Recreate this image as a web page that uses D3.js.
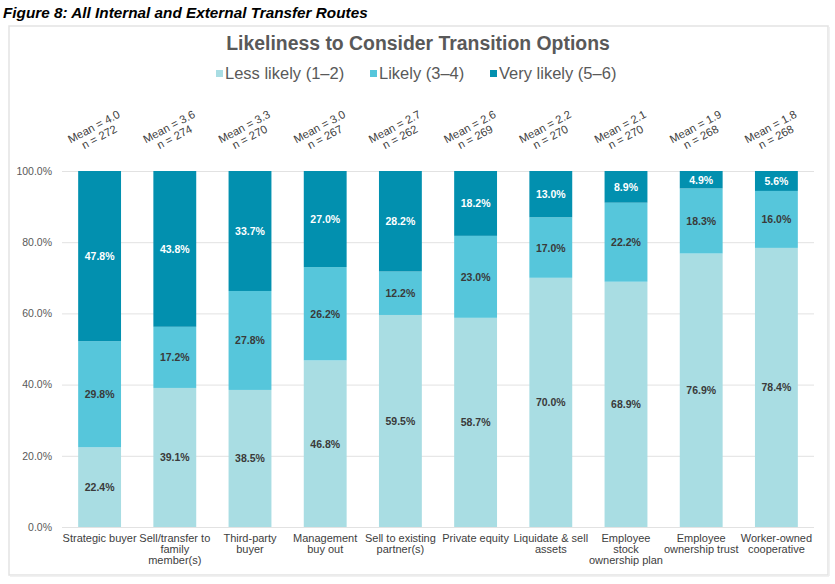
<!DOCTYPE html>
<html><head><meta charset="utf-8">
<script src="https://cdn.jsdelivr.net/npm/d3@7"></script>
<style>body{margin:0;background:#fff;} svg{display:block;}</style>
</head><body>
<svg id="c" width="835" height="584"></svg>
<script>
const categories = ["Strategic buyer","Sell/transfer to|family|member(s)","Third-party|buyer","Management|buy out","Sell to existing|partner(s)","Private equity","Liquidate & sell|assets","Employee|stock|ownership plan","Employee|ownership trust","Worker-owned|cooperative"];
const lessLikely = [22.4,39.1,38.5,46.8,59.5,58.7,70.0,68.9,76.9,78.4];
const likely = [29.8,17.2,27.8,26.2,12.2,23.0,17.0,22.2,18.3,16.0];
const veryLikely = [47.8,43.8,33.7,27.0,28.2,18.2,13.0,8.9,4.9,5.6];
const means = ["4.0","3.6","3.3","3.0","2.7","2.6","2.2","2.1","1.9","1.8"];
const ns = [272,274,270,267,262,269,270,270,268,268];
const seriesNames = ["Less likely (1\u20132)","Likely (3\u20134)","Very likely (5\u20136)"];
const yTicks = [0,0.2,0.4,0.6,0.8,1.0];

const colors = ["#A9DDE3","#56C6DB","#0290AF"];
const labelColors = ["#3a3a3a","#3a3a3a","#ffffff"];
const keys = ["less","likely","very"];
const rows = categories.map((c,i)=>({cat:c, less:lessLikely[i], likely:likely[i], very:veryLikely[i]}));
const raw = {less:lessLikely, likely:likely, very:veryLikely};

const svg = d3.select("#c");
const font = "'Liberation Sans', Arial, Helvetica, sans-serif";

// caption
svg.append("text").attr("x",3).attr("y",18).text("Figure 8: All Internal and External Transfer Routes")
  .attr("font-family",font).attr("font-weight","bold").attr("font-style","italic")
  .attr("font-size",15.3).attr("fill","#000");

// frame
svg.append("rect").attr("x",9).attr("y",26).attr("width",819).attr("height",549)
  .attr("fill","none").attr("stroke","#e3e3e3").attr("stroke-width",1.5);
svg.append("line").attr("x1",10).attr("x2",829).attr("y1",576).attr("y2",576).attr("stroke","#ececec").attr("stroke-width",1.5);
svg.append("line").attr("x1",829).attr("x2",829).attr("y1",27).attr("y2",576).attr("stroke","#ececec").attr("stroke-width",1.5);

// title
svg.append("text").attr("x",418).attr("y",50).attr("text-anchor","middle")
  .text("Likeliness to Consider Transition Options")
  .attr("font-family",font).attr("font-weight","bold").attr("font-size",19.4).attr("fill","#595959");

// legend
const legendX = [216,370,490];
const lg = svg.append("g");
seriesNames.forEach((s,i)=>{
  lg.append("rect").attr("x",legendX[i]).attr("y",70).attr("width",7).attr("height",7).attr("fill",colors[i]);
  lg.append("text").attr("x",legendX[i]+9).attr("y",79).text(s)
    .attr("font-family",font).attr("font-size",16.5).attr("fill","#595959");
});

const x = d3.scaleBand().domain(categories).range([62,814]).paddingInner(0.43).paddingOuter(0.215);
const y = d3.scaleLinear().domain([0,1]).range([527,171]);

// gridlines
const yAxis = d3.axisLeft(y).tickValues(yTicks).tickSize(-(814-62)).tickFormat(d=>d3.format(".1%")(d));
const ga = svg.append("g").attr("transform","translate(62,0)").call(yAxis);
ga.select(".domain").remove();
ga.selectAll(".tick line").attr("stroke","#e2e2e2").attr("stroke-width",1);
ga.selectAll(".tick text").attr("x",-10).attr("font-family",font).attr("font-size",10.5).attr("fill","#595959");

const stack = d3.stack().keys(keys).offset(d3.stackOffsetExpand);
const series = stack(rows);

series.forEach((s,si)=>{
  const g = svg.append("g");
  g.selectAll("rect").data(s).join("rect")
    .attr("x",d=>x(d.data.cat)).attr("width",x.bandwidth())
    .attr("y",d=>y(d[1])).attr("height",d=>y(d[0])-y(d[1]))
    .attr("fill",colors[si]);
  g.selectAll("text").data(s).join("text")
    .attr("x",d=>x(d.data.cat)+x.bandwidth()/2)
    .attr("y",d=>(y(d[0])+y(d[1]))/2+4)
    .attr("text-anchor","middle")
    .text((d,i)=>raw[keys[si]][i].toFixed(1)+"%")
    .attr("font-family",font).attr("font-weight","bold").attr("font-size",10.5).attr("fill",labelColors[si]);
});

// category labels
categories.forEach((c,i)=>{
  const t = svg.append("text").attr("text-anchor","middle")
    .attr("font-family",font).attr("font-size",11).attr("fill","#404040");
  c.split("|").forEach((line,j)=>{
    t.append("tspan").attr("x",x(c)+x.bandwidth()/2).attr("y",542+j*11).text(line);
  });
});

// mean labels
categories.forEach((c,i)=>{
  const cx = x(c)+x.bandwidth()/2 - 3;
  const g = svg.append("g").attr("transform",`translate(${cx},132) rotate(-28)`);
  const t = g.append("text").attr("text-anchor","middle")
    .attr("font-family",font).attr("font-size",11.3).attr("fill","#404040");
  t.append("tspan").attr("x",0).attr("y",-2).text("Mean = "+means[i]);
  t.append("tspan").attr("x",0).attr("y",9.5).text("n = "+ns[i]);
});
</script>
</body></html>
